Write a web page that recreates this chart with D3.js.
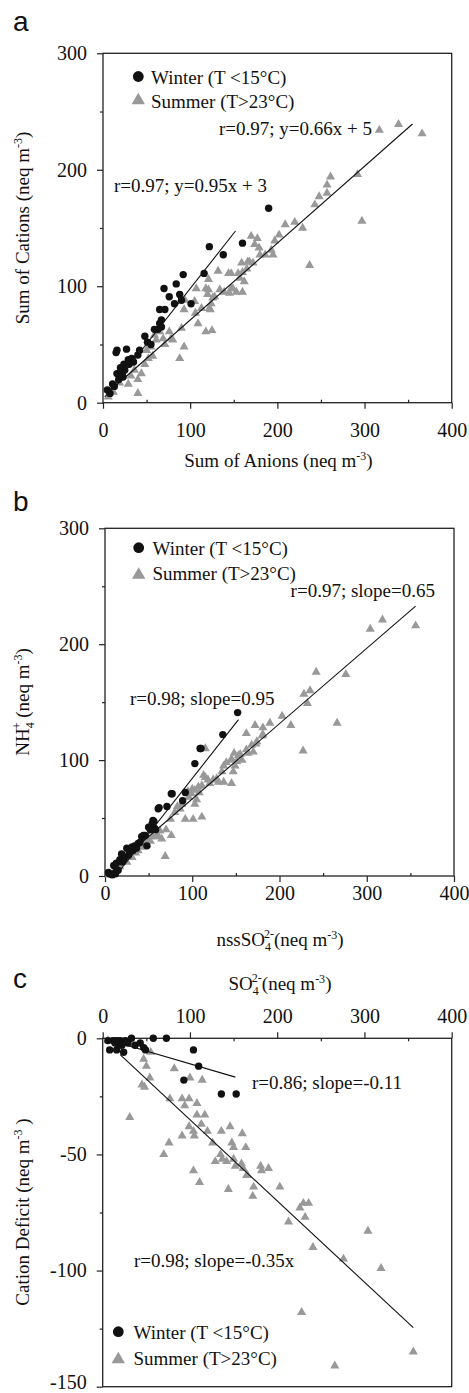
<!DOCTYPE html>
<html><head><meta charset="utf-8">
<script src="https://cdn.jsdelivr.net/npm/d3@7"></script>
<style>body{margin:0;background:#fff}svg{display:block}text{font-family:"Liberation Serif","Times New Roman",serif;fill:#111}</style>
</head><body><svg id="c" width="469" height="1393"></svg>
<script>
// ---------- data ----------
const xTicksMajor = [0, 100, 200, 300, 400];
const xTicksMinor = [50, 150, 250, 350];
const yTicksMajorAB = [0, 100, 200, 300];
const yTicksMinorAB = [50, 150, 250];
const yTicksMajorC = [0, -50, -100, -150];
const yTicksMinorC = [-25, -75, -125];
const legendLabels = ["Winter (T <15°C)", "Summer (T>23°C)"];

// Panel a: Sum of Anions (x) vs Sum of Cations (y)
const winterA = [[5,11],[8,8],[11,16],[13,14],[16,25],[16,45],[15,43],[18,20],[20,30],[20,26],[22,24],[23,22],[24,33],[27,46],[29,37],[30,33],[25,28],[33,38],[35,35],[40,41],[42,45],[48,57],[51,52],[55,50],[59,63],[63,63],[65,68],[67,71],[65,80],[71,80],[67,65],[70,98],[76,91],[82,85],[84,102],[88,93],[90,88],[92,110],[101,85],[116,111],[122,134],[138,127],[160,137],[190,167]];
const summerA = [[6,5],[12,9],[19,17],[29,16],[40,8],[32,23],[36,28],[44,25],[40,20],[48,33],[52,38],[57,40],[50,45],[55,48],[61,54],[59,58],[69,55],[71,50],[65,61],[76,61],[78,55],[80,54],[88,38],[93,48],[90,64],[94,88],[93,80],[105,87],[106,77],[109,68],[107,98],[118,98],[120,93],[122,81],[124,85],[118,61],[125,62],[113,81],[132,113],[128,91],[139,95],[147,111],[155,111],[147,98],[153,95],[160,95],[162,104],[159,120],[166,121],[172,120],[180,127],[170,143],[177,141],[174,136],[179,133],[186,127],[195,127],[193,131],[197,139],[202,144],[209,153],[220,155],[229,150],[237,118],[243,170],[248,177],[257,180],[257,187],[261,194],[292,196],[297,156],[317,234],[339,239],[366,231],[160,112],[165,115],[168,121],[149,98],[144,111],[145,94],[157,107],[134,97],[126,90],[121,106],[121,97],[123,80]];
const fitA = [{slope:0.95, intercept:3, x0:2, x1:152}, {slope:0.66, intercept:5, x0:5, x1:355}];
const notesA = ["r=0.97; y=0.95x + 3", "r=0.97; y=0.66x + 5"];

// Panel b: nssSO4 (x) vs NH4 (y)
const winterB = [[4,3],[8,1],[5,2],[12,2],[12,3],[10,9],[13,11],[15,5],[17,14],[19,19],[20,12],[22,15],[25,24],[27,18],[28,20],[31,25],[32,22],[34,26],[36,24],[38,28],[40,29],[42,34],[44,35],[46,35],[48,26],[50,42],[52,40],[54,45],[55,48],[56,47],[57,41],[58,40],[61,58],[62,59],[71,60],[76,71],[77,71],[89,65],[92,72],[103,97],[109,110],[110,110],[135,122],[152,141]];
const summerB = [[5,1],[10,3],[14,6],[17,8],[21,15],[25,12],[28,18],[31,16],[35,20],[38,22],[42,25],[44,28],[48,27],[50,31],[52,30],[55,34],[59,34],[60,36],[63,39],[65,32],[69,17],[70,40],[76,35],[75,49],[80,55],[83,60],[86,58],[88,62],[92,49],[95,73],[100,75],[101,49],[105,66],[108,72],[111,51],[103,62],[96,68],[99,71],[103,74],[107,77],[111,78],[115,85],[118,83],[120,80],[124,83],[128,84],[130,81],[136,81],[145,80],[134,90],[139,98],[145,101],[149,95],[153,104],[157,100],[164,106],[168,113],[174,116],[180,121],[115,110],[113,87],[136,95],[147,90],[151,99],[145,100],[148,106],[155,105],[162,109],[170,107],[173,114],[162,123],[172,130],[181,128],[189,132],[181,122],[203,138],[213,130],[228,157],[235,160],[232,149],[242,176],[276,174],[227,108],[266,132],[304,213],[318,221],[356,216]];
const fitB = [{slope:0.957, intercept:-11.5, x0:10, x1:153}, {slope:0.65, intercept:1.5, x0:8, x1:356}];
const notesB = ["r=0.98; slope=0.95", "r=0.97; slope=0.65"];

// Panel c: SO4 (x) vs Cation Deficit (y)
const winterC = [[6,-1],[12,-1],[16,-1],[20,-1],[26,-1],[33,0],[8,-5],[16,-5],[24,-6],[18,-3],[14,-2],[22,-3],[29,-2],[37,-3],[43,-2],[47,-4],[49,-5],[58,0],[73,0],[104,-5],[110,-12],[93,-18],[136,-24],[153,-24]];
const summerC = [[6,-1],[47,-9],[50,-12],[55,-6],[54,-17],[45,-20],[48,-21],[31,-34],[82,-13],[100,-17],[114,-18],[77,-26],[91,-26],[94,-29],[99,-26],[108,-28],[108,-33],[117,-33],[113,-37],[99,-38],[91,-42],[104,-40],[105,-42],[120,-40],[136,-40],[146,-38],[160,-41],[126,-45],[148,-45],[150,-47],[164,-47],[76,-45],[70,-50],[135,-50],[137,-52],[129,-53],[142,-53],[152,-55],[159,-54],[161,-56],[166,-59],[181,-55],[190,-56],[182,-57],[104,-57],[111,-62],[144,-65],[150,-52],[165,-59],[172,-68],[173,-64],[203,-64],[213,-79],[226,-73],[230,-71],[236,-71],[232,-77],[241,-90],[228,-118],[266,-141],[276,-95],[304,-83],[319,-99],[356,-135]];
const fitC = [{slope:-0.11, intercept:0, x0:8, x1:152}, {slope:-0.35, intercept:0, x0:20, x1:356}];
const notesC = ["r=0.86; slope=-0.11", "r=0.98; slope=-0.35x"];

// ---------- drawing ----------
const svg = d3.select("#c");
const WINTER = "#111", SUMMER = "#999";
const tri = d3.symbol().type(d3.symbolTriangle).size(36);
const triBig = d3.symbol().type(d3.symbolTriangle).size(78);
const fmt = d => String(d);

function panel(o) {
  const x = d3.scaleLinear().domain([0, 400]).range([o.left, o.right]);
  const y = d3.scaleLinear().domain(o.ydom).range([o.bottom, o.top]);
  const g = svg.append("g");
  const xAxisY = o.xTop ? y(0) : o.bottom;
  const mkX = o.xTop ? d3.axisTop : d3.axisBottom;
  const ax = g.append("g").attr("transform", `translate(0,${xAxisY})`)
    .call(mkX(x).tickValues(xTicksMajor).tickSize(6).tickPadding(o.xPad).tickFormat(fmt));
  ax.select(".domain").remove();
  ax.selectAll("text").attr("font-size", 20).attr("font-family", "Liberation Serif").attr("fill", "#111");
  const axm = g.append("g").attr("transform", `translate(0,${xAxisY})`)
    .call(mkX(x).tickValues(xTicksMinor).tickSize(-3).tickFormat(""));
  axm.select(".domain").remove();
  const ay = g.append("g").attr("transform", `translate(${o.left},0)`)
    .call(d3.axisLeft(y).tickValues(o.yMajor).tickSize(6).tickPadding(10).tickFormat(fmt));
  ay.select(".domain").remove();
  ay.selectAll("text").attr("font-size", 20).attr("font-family", "Liberation Serif").attr("fill", "#111");
  if (o.lastLabelUp) ay.selectAll("text").filter(d => d === o.ydom[0]).attr("dy", "0.1em");
  const aym = g.append("g").attr("transform", `translate(${o.left},0)`)
    .call(d3.axisLeft(y).tickValues(o.yMinor).tickSize(3).tickFormat(""));
  aym.select(".domain").remove();
  g.selectAll(".tick line").attr("stroke", "#222").attr("stroke-width", 1.2);
  g.append("rect").attr("x", o.left).attr("y", o.top).attr("width", o.right - o.left).attr("height", o.bottom - o.top)
    .attr("fill", "none").attr("stroke", "#222").attr("stroke-width", 1.3);
  g.append("g").selectAll("path").data(o.summer).join("path")
    .attr("d", tri).attr("transform", d => `translate(${x(d[0])},${y(d[1])})`).attr("fill", SUMMER);
  g.append("g").selectAll("circle").data(o.winter).join("circle")
    .attr("cx", d => x(d[0])).attr("cy", d => y(d[1])).attr("r", 3.7).attr("fill", WINTER);
  g.append("g").selectAll("line").data(o.fits).join("line")
    .attr("x1", d => x(d.x0)).attr("y1", d => y(d.slope * d.x0 + d.intercept))
    .attr("x2", d => x(d.x1)).attr("y2", d => y(d.slope * d.x1 + d.intercept))
    .attr("stroke", "#111").attr("stroke-width", 1.1);
  o.notes.forEach((t, i) => {
    const p = o.notePos[i];
    g.append("text").attr("x", p[0]).attr("y", p[1]).attr("text-anchor", p[2]).attr("font-size", 19).text(t);
  });
  const L = o.legend;
  g.append("circle").attr("cx", L.x).attr("cy", L.y1).attr("r", 5.4).attr("fill", WINTER);
  g.append("path").attr("d", triBig).attr("transform", `translate(${L.x},${L.y2})`).attr("fill", SUMMER);
  g.append("text").attr("x", L.tx).attr("y", L.b1).attr("font-size", 19).text(legendLabels[0]);
  g.append("text").attr("x", L.tx).attr("y", L.b2).attr("font-size", 19).text(legendLabels[1]);
  svg.append("text").attr("x", 13).attr("y", o.letterY).attr("font-size", 28)
    .style("font-family", "'Liberation Sans', Arial, sans-serif").text(o.letter);
  return {x, y};
}

function titleH(parts, cx, by) {
  const t = svg.append("text").attr("x", cx).attr("y", by).attr("text-anchor", "middle").attr("font-size", 19);
  parts.forEach(p => {
    const s = t.append("tspan").text(p.t);
    if (p.dy) s.attr("dy", p.dy);
    if (p.dx) s.attr("dx", p.dx);
    if (p.fs) s.attr("font-size", p.fs);
  });
  return t;
}
function titleV(parts, bx, cy) {
  const t = titleH(parts, 0, 0);
  t.attr("x", null).attr("y", null).attr("transform", `translate(${bx},${cy}) rotate(-90)`);
}

panel({letter:"a", letterY:31, left:103, right:451.7, top:53.3, bottom:402.7, ydom:[0,300],
  yMajor:yTicksMajorAB, yMinor:yTicksMinorAB, xPad:14,
  winter:winterA, summer:summerA, fits:fitA, notes:notesA,
  notePos:[[114,191.5,"start"],[372,135,"end"]],
  legend:{x:138.3, y1:76.5, y2:100.5, tx:151, b1:83.5, b2:107.5}});
titleH([{t:"Sum of Anions (neq m"},{t:"-3",dy:-7,fs:12},{t:")",dy:7}], 278.5, 467);
titleV([{t:"Sum of Cations (neq m"},{t:"-3",dy:-7,fs:12},{t:")",dy:7}], 29, 228);

panel({letter:"b", letterY:511, left:105, right:454, top:528.3, bottom:876, ydom:[0,300],
  yMajor:yTicksMajorAB, yMinor:yTicksMinorAB, xPad:4,
  winter:winterB, summer:summerB, fits:fitB, notes:notesB,
  notePos:[[130,705,"start"],[435,596.5,"end"]],
  legend:{x:138.7, y1:547.7, y2:575, tx:152.5, b1:554.5, b2:580}});
titleH([{t:"nssSO"},{t:"4",dy:5,fs:12},{t:"2-",dx:-7,dy:-13,fs:12},{t:"(neq m",dy:8},{t:"-3",dy:-7,fs:12},{t:")",dy:7}], 280, 946);
titleV([{t:"NH"},{t:"4",dy:5,fs:12},{t:"+",dx:-7,dy:-13,fs:12},{t:" (neq m",dy:8},{t:"-3",dy:-7,fs:12},{t:")",dy:7}], 29, 702);

panel({letter:"c", letterY:988, left:102.7, right:451.7, top:1038.3, bottom:1386.7, ydom:[-150,0], xTop:true,
  yMajor:yTicksMajorC, yMinor:yTicksMinorC, xPad:9, lastLabelUp:true,
  winter:winterC, summer:summerC, fits:fitC, notes:notesC,
  notePos:[[252,1088.5,"start"],[134,1266.5,"start"]],
  legend:{x:118.3, y1:1331.7, y2:1359.5, tx:133.5, b1:1339, b2:1365}});
titleH([{t:"SO"},{t:"4",dy:5,fs:12},{t:"2-",dx:-7,dy:-13,fs:12},{t:"(neq m",dy:8},{t:"-3",dy:-7,fs:12},{t:")",dy:7}], 280, 990);
titleV([{t:"Cation Deficit (neq m"},{t:"-3",dy:-7,fs:12},{t:" )",dy:7}], 29, 1212);
</script></body></html>
